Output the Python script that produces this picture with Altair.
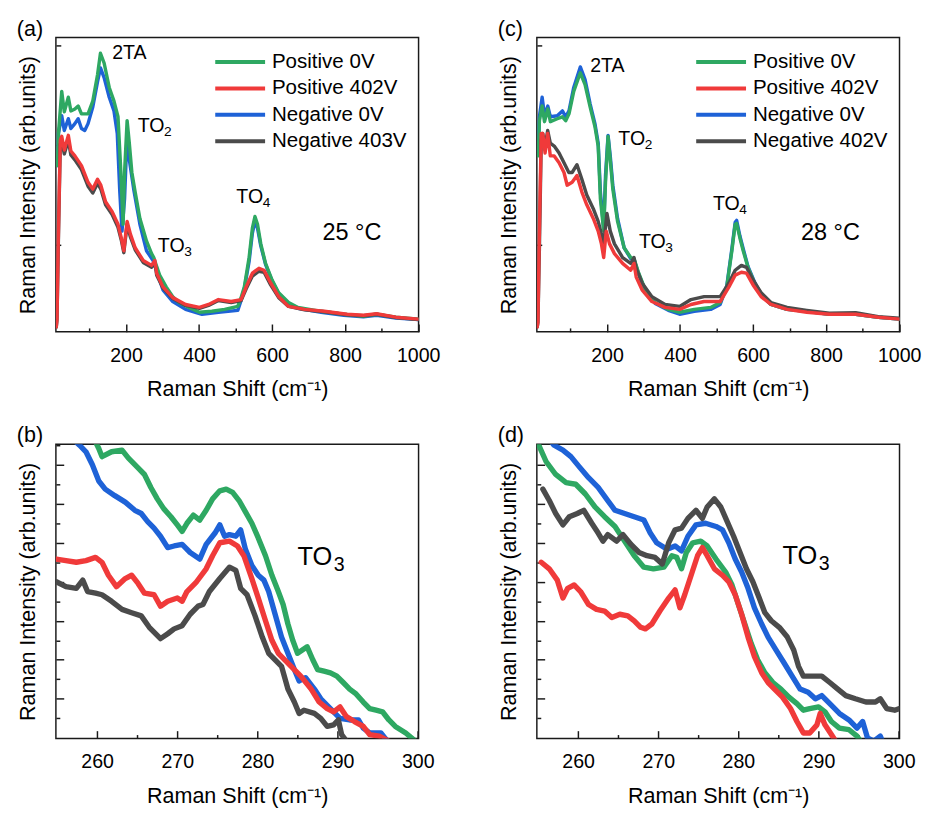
import altair as alt
import pandas as pd

FONT = "Liberation Sans"

# ---------------- series names / colours ----------------
NAMES_25C = ["Positive 0V", "Positive 402V", "Negative 0V", "Negative 403V"]
NAMES_28C = ["Positive 0V", "Positive 402V", "Negative 0V", "Negative 402V"]
COLORS = ["#2EA862", "#F03A3A", "#1E62D7", "#4B4B4B"]

# ---------------- panel (a): 25 C full spectra ----------------
A_GREEN_X = [12, 15, 24, 31, 42, 49, 60, 69, 78, 96, 109, 122, 130, 140, 154, 167, 178, 185, 192, 196,
             203, 209, 216, 225, 238, 256, 270, 276, 281, 292, 310, 328, 345, 372, 401, 435, 470, 506, 515, 524,
             537, 546, 553, 560, 569, 582, 600, 618, 645, 671, 734, 796, 850, 886, 939, 1001]
A_GREEN_Y = [170, 203, 246, 225, 240, 226, 228, 231, 223, 223, 236, 263, 285, 275, 250, 236, 220, 170, 110, 163,
             216, 193, 163, 143, 116, 93, 80, 76, 70, 58, 46, 36, 30, 25, 20, 21, 23, 26, 35, 46,
             76, 106, 118, 110, 90, 70, 53, 40, 30, 25, 21, 18, 16, 18, 15, 13]
A_BLUE_X = [12, 15, 24, 31, 42, 49, 60, 69, 78, 87, 96, 109, 122, 130, 140, 154, 167, 176, 183, 189,
            196, 203, 209, 221, 238, 256, 274, 283, 301, 328, 363, 408, 453, 506, 515, 524, 537, 546, 553, 560,
            569, 582, 600, 618, 645, 671, 734, 796, 850, 886, 939, 1001]
A_BLUE_Y = [170, 203, 221, 206, 218, 208, 213, 218, 208, 206, 213, 230, 256, 270, 260, 240, 226, 203, 143, 103,
            136, 203, 176, 146, 110, 83, 73, 63, 43, 31, 23, 18, 20, 22, 32, 44, 72, 101, 113, 106,
            88, 69, 52, 39, 29, 24, 20, 17, 15.5, 17, 14, 12.5]
A_RED_X = [9, 11, 15, 20, 24, 31, 42, 49, 60, 78, 96, 109, 122, 131, 144, 162, 178, 187, 194, 203,
           212, 225, 247, 270, 279, 284, 301, 328, 363, 401, 426, 453, 488, 515, 529, 546, 564, 578, 596, 618,
           645, 689, 743, 805, 850, 886, 939, 1001]
A_RED_Y = [5, 13, 103, 196, 200, 186, 201, 185, 180, 170, 153, 146, 156, 150, 133, 123, 110, 96, 83, 113,
           100, 86, 73, 68, 73, 60, 46, 35, 28, 25, 28, 33, 31, 33, 46, 60, 65, 63, 50, 36,
           26, 23, 21, 18, 17, 18.5, 15, 13]
A_GRAY_X = A_RED_X
A_GRAY_Y = [5, 12, 98, 192, 196, 182, 196, 181, 176, 166, 149, 142, 152, 146, 130, 120, 107, 94, 81, 110,
            97, 84, 71, 66, 71, 58, 45, 34, 27, 24, 27, 32, 30, 32, 44, 57, 62, 61, 48, 35,
            26, 22.5, 20.5, 17.5, 16.5, 18, 14.5, 12.5]

# ---------------- panel (c): 28 C full spectra ----------------
C_GREEN_X = [12, 15, 22.5, 29, 38, 45, 64, 78, 87, 96, 109, 127, 140, 154, 167, 176, 182, 191, 196, 203,
             209, 216, 229, 247, 265, 274, 287, 305, 332, 368, 399, 439, 484, 510, 528, 542, 551, 555, 564, 573,
             586, 604, 622, 649, 693, 747, 809, 881, 943, 1001]
C_GREEN_Y = [180, 216, 231, 215, 228, 215, 218, 220, 216, 223, 246, 265, 253, 230, 210, 190, 136, 103, 153, 200,
             176, 146, 113, 86, 76, 75, 60, 43, 30, 23, 20, 23, 25, 30, 46, 83, 110, 111, 96, 83,
             66, 50, 38, 28, 23, 21, 18, 18, 15, 13]
C_BLUE_X = C_GREEN_X
C_BLUE_Y = [185, 220, 240, 221, 231, 220, 221, 226, 220, 226, 250, 271, 258, 233, 213, 193, 143, 106, 160, 201,
            180, 150, 116, 86, 75, 74, 59, 42, 29, 22, 18, 21, 23, 28, 47, 85, 112, 114, 98, 85,
            67, 51, 38, 28, 23, 21, 18, 18, 15, 13]
C_RED_X = [9, 11, 15, 20, 24, 30.5, 37.7, 44.8, 55.5, 68.9, 82.3, 91, 104.6, 117.9, 131.3, 144.7, 162.5, 175.9, 184.8, 191,
           198, 207, 220.5, 242.8, 265, 274, 280, 296, 323, 359, 399, 430, 466, 510, 534, 551, 568, 582, 600, 622,
           649, 693, 747, 809, 881, 943, 1001]
C_RED_Y = [5, 10, 103, 203, 203, 183, 203, 180, 180, 173, 163, 150, 153, 160, 143, 130, 116, 103, 90, 76,
           103, 90, 80, 70, 63, 70, 56, 43, 31, 25, 23, 28, 31, 31, 46, 58, 61, 60, 48, 36,
           28, 23, 20, 18, 18, 15, 13]
C_GRAY_X = [9, 11, 15, 20, 24, 30.5, 37.7, 44.8, 55.5, 68.9, 82.3, 95.6, 104.6, 117.9, 131.3, 144.7, 162.5, 175.9, 184.8, 191,
            200, 209, 220.5, 242.8, 265, 274, 280, 296, 323, 359, 399, 430, 466, 510, 534, 551, 568, 582, 600, 622,
            649, 693, 747, 809, 881, 943, 1001]
C_GRAY_Y = [5, 10, 86, 196, 203, 190, 206, 193, 190, 183, 173, 163, 163, 171, 156, 140, 126, 113, 100, 90,
            121, 103, 90, 76, 70, 76, 65, 50, 36, 28, 26, 33, 36, 36, 50, 63, 68, 66, 53, 40,
            30, 25, 22, 19, 19.5, 15.5, 14]

# ---------------- panel (b): 25 C, TO3 region ----------------
B_GREEN_X = [259.4, 260.2, 260.6, 261.8, 263.1, 263.9, 265.1, 265.9, 266.7, 267.5, 268.3, 269.2, 270.0, 270.6, 271.2,
             272.0, 272.8, 273.6, 274.4, 275.3, 276.1, 276.9, 277.7, 278.5, 279.3, 280.1, 281.0, 281.8, 282.6, 283.2,
             283.8, 284.4, 285.0, 285.6, 286.2, 286.9, 287.5, 288.3, 289.1, 289.9, 290.7, 291.5, 292.3, 293.2, 294.0,
             294.8, 295.6, 296.4, 297.2, 298.5, 299.7, 300.5]
B_GREEN_Y = [310, 296.7, 288.3, 293.3, 295, 286.7, 276.7, 270, 256.7, 245, 235, 226.7, 218.3, 211.7, 220,
             228.3, 223.3, 233.3, 245, 253.3, 255, 251.7, 243.3, 231.7, 220, 205, 186.7, 166.7, 150, 136.7,
             116.7, 100, 86.7, 90, 93.3, 80, 70, 68.3, 66.7, 63.3, 56.7, 50, 45, 36.7, 30,
             28.3, 26.7, 18.3, 11.7, 5, -3.3, -10]
B_BLUE_X = [256.5, 257.8, 258.6, 259.4, 260.2, 261.0, 262.2, 263.5, 264.7, 265.5, 266.3, 267.1, 267.9, 268.8, 269.6,
            270.6, 271.6, 272.8, 273.6, 274.7, 275.3, 275.9, 276.5, 277.3, 277.9, 278.5, 279.3, 280.1, 280.8, 281.4,
            282.2, 283.0, 283.8, 284.6, 285.2, 286.0, 287.1, 287.9, 289.1, 290.3, 291.5, 292.6, 293.2, 294.0, 295.4,
            296.2, 297.2]
B_BLUE_Y = [310, 300, 293.3, 280, 263.3, 255, 248.3, 241.7, 233.3, 230, 221.7, 215, 206.7, 195, 196.7,
            198.3, 190, 183.3, 198.3, 210, 218.3, 206.7, 208.3, 206.7, 213.3, 193.3, 176.7, 166.7, 161.7, 150,
            126.7, 103.3, 86.7, 70, 58.3, 61.7, 50, 40, 30, 20, 18.3, 18.3, 10, 5, 5,
            -3.3, -13]
B_RED_X = [254.9, 256.1, 257.4, 258.6, 259.8, 260.6, 261.4, 262.4, 263.5, 264.3, 265.1, 265.9, 267.1, 267.9, 268.8,
           270.0, 270.6, 271.2, 272.4, 273.6, 274.4, 275.3, 276.5, 277.5, 278.3, 279.3, 280.1, 281.0, 281.8, 282.6,
           283.4, 284.2, 285.4, 286.7, 287.7, 288.7, 289.5, 290.3, 291.1, 292.1, 293.2, 294.0, 295.2, 296.4, 297.2]
B_RED_Y = [183.3, 181.7, 180, 181.7, 185, 180, 166.7, 155, 163.3, 166.7, 158.3, 148.3, 146.7, 135, 140,
           143.3, 140, 150, 160, 173.3, 186.7, 200, 201.7, 196.7, 186.7, 163.3, 143.3, 120, 100, 86.7,
           80, 73.3, 63.3, 50, 36.7, 30, 26.7, 31.7, 21.7, 16.7, 11.7, 3.3, 1.7, -3.3, -10]
B_GRAY_X = [254.9, 256.1, 257.4, 258.2, 258.8, 259.8, 260.6, 261.8, 263.1, 264.3, 265.5, 266.5, 267.9, 268.8, 269.6,
            270.6, 271.6, 272.6, 273.2, 274.0, 275.3, 276.5, 277.3, 277.9, 278.7, 279.7, 280.6, 281.4, 282.2, 283.0,
            283.8, 284.6, 285.2, 285.8, 287.1, 287.9, 288.7, 289.5, 290.1, 290.5, 291.1, 291.9]
B_GRAY_Y = [160, 155, 153.3, 161.7, 150, 148.3, 146.7, 140, 131.7, 128.3, 125, 113.3, 101.7, 106.7, 111.7,
            115, 126.7, 135, 136.7, 150, 163.3, 175, 171.7, 153.3, 146.7, 125, 103.3, 86.7, 80, 73.3,
            50, 36.7, 25, 28.3, 25, 20, 11.7, 13.3, 18.3, 3.3, -3.3, -13]

# ---------------- panel (d): 28 C, TO3 region ----------------
D_GREEN_X = [254.6, 255.0, 256.0, 257.2, 258.5, 259.7, 260.9, 262.1, 263.3, 264.6, 265.4, 266.2, 267.0, 268.2, 269.4,
             270.7, 271.7, 272.3, 272.9, 273.5, 274.3, 275.3, 276.1, 277.2, 278.4, 279.2, 280.0, 280.8, 281.6, 282.4,
             283.3, 284.3, 285.3, 286.3, 287.3, 288.1, 288.9, 290.0, 290.8, 291.6, 292.6, 293.8, 294.8, 295.5]
D_GREEN_Y = [310, 301.7, 283.3, 270, 261.7, 260, 250, 236.7, 226.7, 216.7, 206.7, 196.7, 186.7, 175, 173.3,
             175, 186.7, 185, 173.3, 190, 200, 201.7, 196.7, 183.3, 170, 156.7, 136.7, 116.7, 96.7, 80,
             66.7, 56.7, 50, 41.7, 35, 28.3, 30, 31.7, 26.7, 16.7, 10, 8.3, 1.7, -6.7]
D_BLUE_X = [256.0, 257.0, 258.1, 259.1, 260.1, 261.3, 262.5, 263.7, 264.6, 265.8, 267.0, 268.2, 269.0, 269.8, 271.1,
            272.1, 272.9, 273.7, 274.7, 275.9, 277.2, 278.0, 278.8, 279.6, 280.4, 281.2, 282.0, 282.9, 283.7, 284.7,
            285.7, 286.7, 287.7, 288.7, 289.6, 290.4, 291.4, 292.6, 293.8, 294.8, 295.5, 296.1, 296.9, 297.7, 298.3]
D_BLUE_Y = [310, 300, 295, 288.3, 278.3, 266.7, 256.7, 243.3, 233.3, 230, 226.7, 223.3, 210, 200, 193.3,
            196.7, 191.7, 206.7, 218.3, 220, 216.7, 213.3, 200, 183.3, 170, 153.3, 133.3, 116.7, 103.3, 90,
            76.7, 63.3, 50, 46.7, 40, 43.3, 35, 25, 18.3, 10, 16.7, 0, -3.3, 1.7, -10]
D_RED_X = [255.4, 256.4, 257.4, 258.1, 258.7, 259.5, 260.3, 261.3, 262.3, 263.3, 264.2, 265.2, 266.2, 267.0, 267.8,
           268.4, 269.2, 270.2, 271.3, 272.1, 272.7, 273.3, 274.1, 274.9, 275.5, 276.1, 277.0, 278.0, 278.8, 279.6,
           280.4, 281.2, 282.0, 282.9, 283.7, 284.5, 285.5, 286.5, 287.3, 288.1, 288.9, 289.8, 290.2, 290.8, 291.6, 292.4]
D_RED_Y = [180, 173.3, 161.7, 143.3, 153.3, 156.7, 150, 136.7, 131.7, 130, 123.3, 126.7, 125, 120, 113.3,
           111.7, 116.7, 130, 143.3, 151.7, 133.3, 146.7, 166.7, 186.7, 195, 186.7, 173.3, 166.7, 160, 146.7,
           126.7, 103.3, 83.3, 66.7, 56.7, 50, 41.7, 30, 16.7, 5, 5, 13.3, 25, 13.3, 3.3, -6.7]
D_GRAY_X = [255.6, 256.4, 257.2, 258.1, 258.9, 259.9, 260.7, 261.7, 262.5, 263.1, 263.7, 264.8, 265.6, 266.6, 267.6,
            268.6, 269.6, 270.5, 271.3, 272.1, 272.9, 273.7, 274.7, 275.5, 276.1, 277.0, 277.8, 278.6, 279.4, 280.2,
            281.0, 281.8, 282.6, 283.3, 284.1, 285.1, 286.1, 286.9, 287.5, 288.1, 289.4, 290.4, 291.4, 292.4, 293.4,
            294.6, 295.9, 297.1, 297.7, 298.5, 299.5, 300.1]
D_GRAY_Y = [255, 243.3, 230, 218.3, 226.7, 230, 233.3, 220, 210, 201.7, 208.3, 201.7, 208.3, 198.3, 190,
            186.7, 185, 178.3, 200, 213.3, 215, 225, 233.3, 225, 236.7, 245, 236.7, 221.7, 206.7, 190,
            173.3, 160, 143.3, 128.3, 120, 113.3, 103.3, 90, 73.3, 63.3, 63.3, 63.3, 56.7, 50, 43.3,
            40, 36.7, 36.7, 40, 30, 28.3, 30]

# ---------------- annotations ----------------
A_PEAK_TEXT = ["2TA", "TO", "TO", "TO"]
A_PEAK_X = [162, 232, 287, 502]
A_PEAK_Y = [285, 210, 88, 138]
A_SUB_TEXT = ["2", "3", "4"]
A_SUB_X = [232, 287, 502]
A_SUB_Y = [210, 88, 138]
A_TEMP = ["25 °C"]
A_TEMP_X = [738]
A_TEMP_Y = [101]

C_PEAK_TEXT = ["2TA", "TO", "TO", "TO"]
C_PEAK_X = [154, 231, 287.5, 490]
C_PEAK_Y = [272, 197, 92, 131]
C_SUB_TEXT = ["2", "3", "4"]
C_SUB_X = [231, 287.5, 490]
C_SUB_Y = [197, 92, 131]
C_TEMP = ["28 °C"]
C_TEMP_X = [731]
C_TEMP_Y = [101]

B_PEAK_TEXT = ["TO"]
B_PEAK_X = [285.0]
B_PEAK_Y = [185]
B_SUB_TEXT = ["3"]
D_PEAK_TEXT = ["TO"]
D_PEAK_X = [285.5]
D_PEAK_Y = [186]
D_SUB_TEXT = ["3"]

# axis tick values
TOP_X_MAJOR = [200, 400, 600, 800, 1000]
TOP_X_MINOR = [100, 300, 500, 700, 900]
TOP_Y_MAJOR = [89, 191, 293]
BOT_X_MAJOR = [260, 270, 280, 290, 300]
BOT_X_MINOR = [265, 275, 285, 295]
BOT_Y_MAJOR = [40, 80, 120, 160, 200, 240, 280]
BOT_Y_MINOR = [20, 60, 100, 140, 180, 220, 260, 300]

DRAW_ORDER = [2, 0, 3, 1]  # blue, green, gray, red (red on top)


def build_df(series, names):
    rows = []
    for k in DRAW_ORDER:
        xs, ys = series[k]
        for x, y in zip(xs, ys):
            rows.append({"x": x, "y": y, "series": names[k]})
    return pd.DataFrame(rows)


def inward(n):
    return {"expr": str(-n)}


def panel(df, names, x_dom, y_dom, x_major, x_minor, y_major, y_major_len, y_minor,
          stroke_w, label, show_legend, peak, sub, temp,
          peak_size, sub_size, sub_dx, sub_dy):
    xs = alt.Scale(domain=x_dom, nice=False, zero=False)
    ys = alt.Scale(domain=y_dom, nice=False, zero=False)
    if show_legend:
        legend = alt.Legend(orient="none", legendX=161, legendY=15, title=None,
                            symbolType="stroke", symbolSize=2600, symbolStrokeWidth=4,
                            labelFont=FONT, labelFontSize=21, labelColor="black",
                            clipHeight=20, rowPadding=6, labelOffset=5, padding=0)
    else:
        legend = None
    lines = alt.Chart(df).mark_line(strokeWidth=stroke_w, clip=True,
                                    strokeJoin="round", strokeCap="round").encode(
        x=alt.X("x:Q", scale=xs,
                axis=alt.Axis(values=x_major, tickSize=inward(8), labelPadding=22,
                              labelFlush=False, format="d", title="Raman Shift (cm⁻¹)",
                              titlePadding=14, orient="bottom")),
        y=alt.Y("y:Q", scale=ys,
                axis=alt.Axis(values=y_major, tickSize=inward(y_major_len), labels=False,
                              title="Raman Intensity (arb.units)", titlePadding=16,
                              orient="left")),
        color=alt.Color("series:N", scale=alt.Scale(domain=names, range=COLORS),
                        legend=legend),
    )
    y_minor_axis = (alt.Axis(values=y_minor, tickSize=inward(4), labels=False,
                             title=None, orient="left") if y_minor else None)
    minor = alt.Chart(df).mark_point(opacity=0, clip=True).encode(
        x=alt.X("x:Q", scale=xs,
                axis=alt.Axis(values=x_minor, tickSize=inward(4), labels=False,
                              title=None, orient="bottom")),
        y=alt.Y("y:Q", scale=ys, axis=y_minor_axis),
    )
    layers = [lines, minor]
    pt, px, py = peak
    pdf = pd.DataFrame({"x": px, "y": py, "t": pt})
    layers.append(alt.Chart(pdf).mark_text(align="left", baseline="middle", font=FONT,
                                           fontSize=peak_size, color="black").encode(
        x=alt.X("x:Q", scale=xs, axis=None), y=alt.Y("y:Q", scale=ys, axis=None), text="t:N"))
    st, sx, sy = sub
    sdf = pd.DataFrame({"x": sx, "y": sy, "t": st})
    layers.append(alt.Chart(sdf).mark_text(align="left", baseline="middle", font=FONT,
                                           fontSize=sub_size, dx=sub_dx, dy=sub_dy,
                                           color="black").encode(
        x=alt.X("x:Q", scale=xs, axis=None), y=alt.Y("y:Q", scale=ys, axis=None), text="t:N"))
    if temp is not None:
        tt, tx, ty = temp
        tdf = pd.DataFrame({"x": tx, "y": ty, "t": tt})
        layers.append(alt.Chart(tdf).mark_text(align="left", baseline="middle", font=FONT,
                                               fontSize=24, color="black").encode(
            x=alt.X("x:Q", scale=xs, axis=None), y=alt.Y("y:Q", scale=ys, axis=None),
            text="t:N"))
    return alt.layer(*layers).resolve_axis(x="independent", y="independent").properties(
        width=371, height=301,
        title=alt.TitleParams(label, anchor="start", frame="group", dx=-40, offset=-3,
                              fontSize=22, font=FONT, fontWeight="normal", color="black"))


df_a = build_df([(A_GREEN_X, A_GREEN_Y), (A_RED_X, A_RED_Y), (A_BLUE_X, A_BLUE_Y), (A_GRAY_X, A_GRAY_Y)], NAMES_25C)
df_c = build_df([(C_GREEN_X, C_GREEN_Y), (C_RED_X, C_RED_Y), (C_BLUE_X, C_BLUE_Y), (C_GRAY_X, C_GRAY_Y)], NAMES_28C)
df_b = build_df([(B_GREEN_X, B_GREEN_Y), (B_RED_X, B_RED_Y), (B_BLUE_X, B_BLUE_Y), (B_GRAY_X, B_GRAY_Y)], NAMES_25C)
df_d = build_df([(D_GREEN_X, D_GREEN_Y), (D_RED_X, D_RED_Y), (D_BLUE_X, D_BLUE_Y), (D_GRAY_X, D_GRAY_Y)], NAMES_28C)

TOP_X_DOM = [8, 1001]
TOP_Y_DOM = [0, 301]
BOT_X_DOM = [254.85, 300.1]
BOT_Y_DOM = [-0.7, 301]

pa = panel(df_a, NAMES_25C, TOP_X_DOM, TOP_Y_DOM, TOP_X_MAJOR, TOP_X_MINOR, TOP_Y_MAJOR, 5, None,
           3.5, "(a)", True, (A_PEAK_TEXT, A_PEAK_X, A_PEAK_Y), (A_SUB_TEXT, A_SUB_X, A_SUB_Y),
           (A_TEMP, A_TEMP_X, A_TEMP_Y), 20, 14, 27, 6)
pc = panel(df_c, NAMES_28C, TOP_X_DOM, TOP_Y_DOM, TOP_X_MAJOR, TOP_X_MINOR, TOP_Y_MAJOR, 5, None,
           3.5, "(c)", True, (C_PEAK_TEXT, C_PEAK_X, C_PEAK_Y), (C_SUB_TEXT, C_SUB_X, C_SUB_Y),
           (C_TEMP, C_TEMP_X, C_TEMP_Y), 20, 14, 27, 6)
pb = panel(df_b, NAMES_25C, BOT_X_DOM, BOT_Y_DOM, BOT_X_MAJOR, BOT_X_MINOR, BOT_Y_MAJOR, 8, BOT_Y_MINOR,
           5.5, "(b)", False, (B_PEAK_TEXT, B_PEAK_X, B_PEAK_Y), (B_SUB_TEXT, B_PEAK_X, B_PEAK_Y),
           None, 26, 20, 37, 8)
pd_ = panel(df_d, NAMES_28C, BOT_X_DOM, BOT_Y_DOM, BOT_X_MAJOR, BOT_X_MINOR, BOT_Y_MAJOR, 8, BOT_Y_MINOR,
            5.5, "(d)", False, (D_PEAK_TEXT, D_PEAK_X, D_PEAK_Y), (D_SUB_TEXT, D_PEAK_X, D_PEAK_Y),
            None, 26, 20, 37, 8)

chart = alt.concat(pa, pc, pb, pd_, columns=2, spacing={"row": 24, "column": 57}).resolve_scale(
    color="independent"
).properties(
    padding={"left": 8, "top": 0, "right": 0, "bottom": 0}
).configure_view(
    stroke="#1a1a1a", strokeWidth=1.5
).configure_axis(
    labelFont=FONT, labelFontSize=20, labelColor="black",
    titleFont=FONT, titleFontSize=22, titleFontWeight="normal", titleColor="black",
    tickColor="#1a1a1a", tickWidth=1.5, domain=False, grid=False, labelFlush=False
).configure_title(
    font=FONT, fontSize=22, fontWeight="normal", color="black", anchor="start"
)

chart.save("out.html", embed_options={"renderer": "svg", "actions": False})
